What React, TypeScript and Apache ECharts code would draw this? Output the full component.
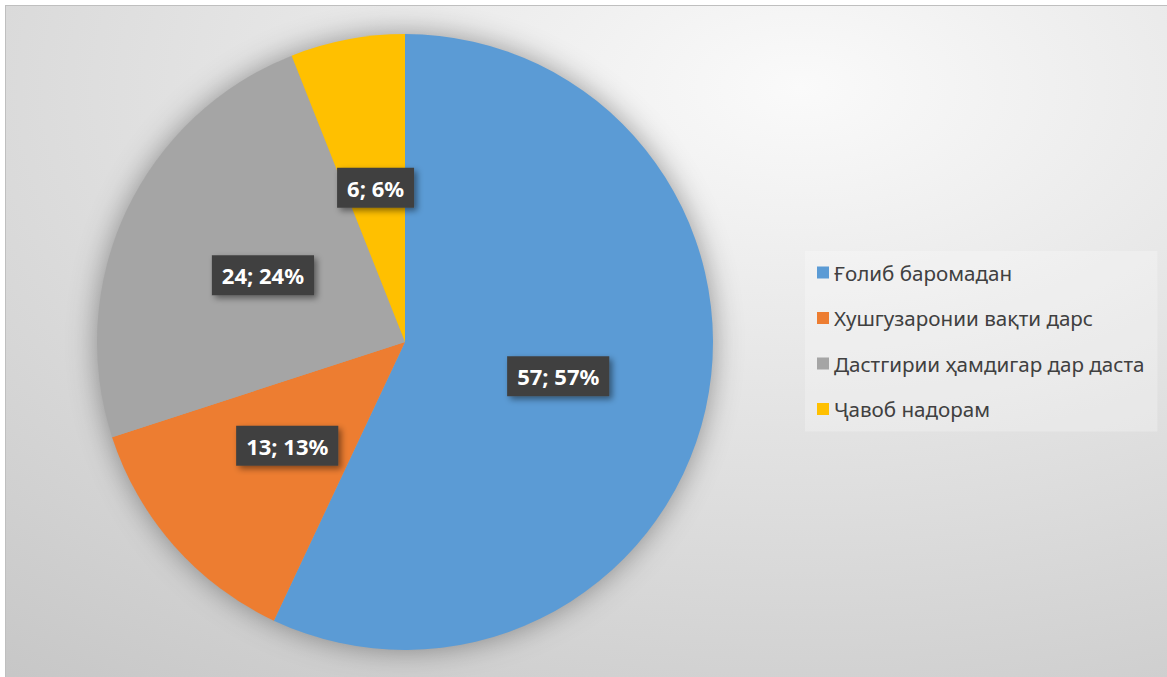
import React, { useEffect, useRef } from "react";
import * as echarts from "echarts";

const categories = [
  "Ғолиб баромадан",
  "Хушгузаронии вақти дарс",
  "Дастгирии ҳамдигар дар даста",
  "Ҷавоб надорам",
];
const values = [57, 13, 24, 6];
const colors = ["#5b9bd5", "#ed7d31", "#a5a5a5", "#ffc000"];

export default function App() {
  const ref = useRef<HTMLDivElement>(null);
  useEffect(() => {
    document.body.style.margin = "0";
    document.body.style.overflow = "hidden";
    const chart = echarts.init(ref.current!, undefined, { renderer: "svg" });
    const total = values.reduce((a, b) => a + b, 0);
    chart.setOption({
      animation: false,
      backgroundColor: {
        type: "radial",
        x: 0.68,
        y: 0.12,
        r: 1.25,
        colorStops: [
          { offset: 0, color: "#fafafa" },
          { offset: 1, color: "#c0c0c0" },
        ],
      },
      legend: {
        data: categories,
        orient: "vertical",
        left: 799,
        top: 245,
        padding: [11, 13, 12, 12],
        itemGap: 24.5,
        itemWidth: 12,
        itemHeight: 12,
        icon: "rect",
        backgroundColor: "rgba(255,255,255,0.25)",
        textStyle: {
          fontFamily: "Noto Sans",
          fontSize: 20.6,
          lineHeight: 20,
          color: "#404040",
        },
        selectedMode: false,
      },
      series: [
        {
          type: "pie",
          silent: true,
          center: [399, 336],
          radius: 307,
          data: [{ value: 1, name: "__bg" }],
          label: { show: false },
          labelLine: { show: false },
          itemStyle: {
            color: "#a5a5a5",
            shadowBlur: 30,
            shadowColor: "rgba(0,0,0,0.4)",
          },
        },
        {
          type: "pie",
          center: [399, 336],
          radius: 308,
          startAngle: 90,
          clockwise: true,
          data: categories.map((n, i) => ({
            name: n,
            value: values[i],
            itemStyle: { color: colors[i] },
          })),
          label: {
            show: true,
            position: "inside",
            formatter: (p: any) =>
              `${p.value}; ${Math.round((p.value / total) * 100)}%`,
            color: "#ffffff",
            fontFamily: "Noto Sans",
            fontWeight: "bold",
            fontSize: 22,
            lineHeight: 24,
            backgroundColor: "#404040",
            padding: [8, 10, 8, 10],
            shadowColor: "rgba(0,0,0,0.45)",
            shadowBlur: 6,
            shadowOffsetX: 3,
            shadowOffsetY: 3,
          },
          labelLine: { show: false },
          emphasis: { disabled: true },
        },
      ],
    });
    return () => chart.dispose();
  }, []);
  return (
    <div
      style={{
        position: "absolute",
        left: 5,
        top: 5,
        width: 1170,
        height: 680,
        boxSizing: "border-box",
        border: "1px solid #bfbfbf",
      }}
    >
      <div ref={ref} style={{ width: 1168, height: 678 }} />
    </div>
  );
}
